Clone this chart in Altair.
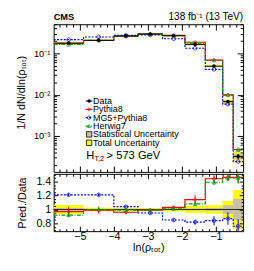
import altair as alt
import pandas as pd

# ---------------- data ----------------
edges = [-5.77, -4.89, -4.00, -3.29, -2.57, -1.91, -1.31, -0.80, -0.49, -0.20]
data_vals = [0.178, 0.208, 0.265, 0.295, 0.267, 0.165, 0.049, 0.0068, 3.2e-4]
pythia_vals = [0.172, 0.205, 0.257, 0.292, 0.274, 0.186, 0.069, 0.0099, 4.7e-4]
mg5_vals = [0.215, 0.250, 0.274, 0.280, 0.226, 0.133, 0.041, 0.0059, 2.4e-4]
herwig_vals = [0.164, 0.208, 0.262, 0.292, 0.270, 0.178, 0.068, 0.0098, 4.6e-4]
stat_rel = [0.02, 0.01, 0.01, 0.01, 0.01, 0.015, 0.02, 0.06, 0.15]
tot_rel = [0.065, 0.025, 0.025, 0.02, 0.03, 0.05, 0.06, 0.12, 0.28]

pythia_ratio = [0.97, 0.99, 0.96, 0.99, 1.03, 1.14, 1.44, 1.46, 1.46]
mg5_ratio = [1.21, 1.21, 1.04, 0.95, 0.85, 0.82, 0.84, 0.87, 0.76]
herwig_ratio = [0.92, 1.00, 0.99, 0.99, 1.01, 1.08, 1.39, 1.45, 1.45]
pythia_rerr = [0.07, 0.05, 0.03, 0.02, 0.02, 0.06, 0.05, 0.05, 0.08]
mg5_rerr = [0.02, 0.02, 0.02, 0.02, 0.02, 0.035, 0.065, 0.09, 0.10]
herwig_rerr = [0.03, 0.02, 0.02, 0.02, 0.02, 0.03, 0.04, 0.05, 0.08]

series_names = ["Pythia8", "MG5+Pythia8", "Herwig7"]
legend_labels = ["Data", "Pythia8", "MG5+Pythia8", "Herwig7",
                 "Statistical Uncertainty", "Total Uncertainty"]
cut_main, cut_sub, cut_rest = "H", "T,2", "> 573 GeV"
header_left = "CMS"
header_right = "138 fb⁻¹ (13 TeV)"
y_title_top = "1/N dN/dln(ρₜₒₜ)"
y_title_bot = "Pred./Data"
x_title = "ln(ρₜₒₜ)"
x_ticks = [-5, -4, -3, -2, -1]
y_ticks_top = [1e-3, 1e-2, 1e-1]
y_ticks_bot = [0.8, 1.0, 1.2, 1.4]

# ---------------- layout / style ----------------
W, H_TOP, H_BOT = 195, 152, 59
FONT = "Liberation Sans"
YEL, TAN = "#ffff00", "#c8bfa4"
style = {
    "Pythia8": dict(color="#ff0000", shape="diamond"),
    "MG5+Pythia8": dict(color="#0000ff", shape="circle", strokeDash=[2, 1.5]),
    "Herwig7": dict(color="#009a00", shape="triangle-up", strokeDash=[4, 1.5, 1, 1.5]),
}
top_vals = dict(zip(series_names, [pythia_vals, mg5_vals, herwig_vals]))
bot_vals = dict(zip(series_names, [pythia_ratio, mg5_ratio, herwig_ratio]))
bot_errs = dict(zip(series_names, [pythia_rerr, mg5_rerr, herwig_rerr]))

xdom = [edges[0], edges[-1]]
ydom_top = [1.35e-4, 0.508]
ydom_bot = [0.69, 1.51]
xs = alt.Scale(domain=xdom, nice=False, zero=False)
ys_top = alt.Scale(type="log", domain=ydom_top, nice=False)
ys_bot = alt.Scale(domain=ydom_bot, nice=False, zero=False)

lo, hi = edges[:-1], edges[1:]
ctr = [(a + b) / 2 for a, b in zip(lo, hi)]

x_minor = [round(-5.6 + 0.2 * i, 1) for i in range(27)]
x_minor = [v for v in x_minor if abs(v - round(v)) > 1e-6]
y_minor_top = [k * 10.0 ** e for e in range(-4, 0) for k in range(2, 10)
               if ydom_top[0] < k * 10.0 ** e < ydom_top[1]]
y_minor_bot = [round(0.7 + 0.05 * i, 2) for i in range(17)]
y_minor_bot = [v for v in y_minor_bot if all(abs(v - m) > 1e-6 for m in y_ticks_bot)]


def step_df(vals):
    return pd.DataFrame({"x": edges, "y": list(vals) + [vals[-1]]})


def X(f, **kw):
    return alt.X(f, type="quantitative", scale=xs, axis=None, **kw)


def Y(f, ys, **kw):
    return alt.Y(f, type="quantitative", scale=ys, axis=None, **kw)


def tick_axis(orient, values, size, offset):
    return alt.Axis(orient=orient, values=values, tickSize=size, offset=offset,
                    labels=False, domain=False, grid=False, title=None,
                    tickColor="black", tickWidth=1, zindex=1)


def axis_layer(df, ys, xaxis, yaxis):
    return alt.Chart(df).mark_point(opacity=0).encode(
        x=alt.X("x:Q", scale=xs, axis=xaxis),
        y=alt.Y("y:Q", scale=ys, axis=yaxis))


# ---------------- top panel ----------------
band_top = pd.DataFrame({
    "lo": lo, "hi": hi, "x": ctr, "y": data_vals,
    "tlo": [d * (1 - t) for d, t in zip(data_vals, tot_rel)],
    "thi": [d * (1 + t) for d, t in zip(data_vals, tot_rel)],
    "slo": [d * (1 - s) for d, s in zip(data_vals, stat_rel)],
    "shi": [d * (1 + s) for d, s in zip(data_vals, stat_rel)],
})

top_layers = [
    alt.Chart(band_top).mark_rect(color=YEL).encode(
        x=X("lo"), x2="hi", y=Y("tlo", ys_top), y2="thi"),
    alt.Chart(band_top).mark_rect(color=TAN).encode(
        x=X("lo"), x2="hi", y=Y("slo", ys_top), y2="shi"),
]
for name in series_names:
    st = style[name]
    lkw = dict(color=st["color"], strokeWidth=1.2, interpolate="step-after", clip=True)
    if "strokeDash" in st:
        lkw["strokeDash"] = st["strokeDash"]
    top_layers.append(alt.Chart(step_df(top_vals[name])).mark_line(**lkw).encode(
        x=X("x"), y=Y("y", ys_top)))
for name in series_names:
    st = style[name]
    top_layers.append(alt.Chart(pd.DataFrame({"x": ctr, "y": top_vals[name]})).mark_point(
        shape=st["shape"], filled=False, color=st["color"], size=14, strokeWidth=1).encode(
        x=X("x"), y=Y("y", ys_top)))
top_layers += [
    alt.Chart(band_top).mark_rule(color="black", strokeWidth=1).encode(
        x=X("lo"), x2="hi", y=Y("y", ys_top)),
    alt.Chart(band_top).mark_rule(color="black", strokeWidth=1).encode(
        x=X("x"), y=Y("slo", ys_top), y2="shi"),
    alt.Chart(band_top).mark_point(shape="circle", filled=True, color="black",
                                   size=14, opacity=1).encode(
        x=X("x"), y=Y("y", ys_top)),
]

# legend (drawn inside the top panel)
LEG_Y0, LEG_DY = 79, 8.6
SYM_X, TXT_X = 36.5, 40.5
LEG_FS = 9.2
one = pd.DataFrame({"a": [0]})
for i, lab in enumerate(legend_labels):
    yy = LEG_Y0 + i * LEG_DY
    top_layers.append(alt.Chart(pd.DataFrame({"t": [lab]})).mark_text(
        align="left", baseline="middle", fontSize=LEG_FS, font=FONT, color="black").encode(
        text="t:N", x=alt.value(TXT_X), y=alt.value(yy)))
    if i == 0:
        top_layers.append(alt.Chart(one).mark_rule(color="black", strokeWidth=1).encode(
            x=alt.value(SYM_X - 3.5), x2=alt.value(SYM_X + 3.5), y=alt.value(yy)))
        top_layers.append(alt.Chart(one).mark_point(
            shape="circle", filled=True, color="black", size=12, opacity=1).encode(
            x=alt.value(SYM_X), y=alt.value(yy)))
    elif i <= 3:
        st = style[lab]
        rkw = dict(color=st["color"], strokeWidth=1.2)
        if "strokeDash" in st:
            rkw["strokeDash"] = st["strokeDash"]
        top_layers.append(alt.Chart(one).mark_rule(**rkw).encode(
            x=alt.value(SYM_X - 3.5), x2=alt.value(SYM_X + 3.5), y=alt.value(yy)))
        top_layers.append(alt.Chart(one).mark_point(
            shape=st["shape"], filled=False, color=st["color"], size=12, strokeWidth=1).encode(
            x=alt.value(SYM_X), y=alt.value(yy)))
    else:
        fillc = TAN if i == 4 else YEL
        top_layers.append(alt.Chart(one).mark_rect(
            fill=fillc, stroke="black", strokeWidth=0.8).encode(
            x=alt.value(SYM_X - 2.8), x2=alt.value(SYM_X + 2.8),
            y=alt.value(yy - 2.8), y2=alt.value(yy + 2.8)))

CUT_Y = 136
HEAD_Y = -4.5
top_layers += [
    alt.Chart(pd.DataFrame({"t": [cut_main]})).mark_text(
        align="left", baseline="middle", fontSize=11.5, font=FONT, color="black").encode(
        text="t:N", x=alt.value(SYM_X - 3), y=alt.value(CUT_Y)),
    alt.Chart(pd.DataFrame({"t": [cut_sub]})).mark_text(
        align="left", baseline="middle", fontSize=7.5, font=FONT, color="black").encode(
        text="t:N", x=alt.value(SYM_X + 5.5), y=alt.value(CUT_Y + 3)),
    alt.Chart(pd.DataFrame({"t": [cut_rest]})).mark_text(
        align="left", baseline="middle", fontSize=11.5, font=FONT, color="black").encode(
        text="t:N", x=alt.value(SYM_X + 18), y=alt.value(CUT_Y)),
    alt.Chart(pd.DataFrame({"t": [header_left]})).mark_text(
        align="left", baseline="alphabetic", fontSize=9.5, font=FONT,
        fontWeight="bold", color="black").encode(
        text="t:N", x=alt.value(0), y=alt.value(HEAD_Y)),
    alt.Chart(pd.DataFrame({"t": [header_right]})).mark_text(
        align="right", baseline="alphabetic", fontSize=10.3, font=FONT, color="black").encode(
        text="t:N", x=alt.value(W), y=alt.value(HEAD_Y)),
]

pts_top = pd.DataFrame({"x": ctr, "y": data_vals})
top_label_expr = ("datum.value < 0.0015 ? '10⁻³' : "
                  "(datum.value < 0.015 ? '10⁻²' : '10⁻¹')")
top_layers += [
    axis_layer(pts_top, ys_top,
               tick_axis("top", x_ticks, 6, -H_TOP),
               alt.Axis(orient="left", values=y_ticks_top, ticks=False, domain=False,
                        grid=False, labelExpr=top_label_expr, labelFontSize=9.5,
                        labelPadding=4, labelFont=FONT, title=y_title_top,
                        titleFontSize=11, titleFont=FONT, titleFontWeight="normal",
                        titleX=-33, titleY=H_TOP / 2 - 6, titleBaseline="middle",
                        titleAlign="center", titleAngle=270)),
    axis_layer(pts_top, ys_top, tick_axis("bottom", x_ticks, 6, -H_TOP),
               tick_axis("right", y_ticks_top, 6, -W)),
    axis_layer(pts_top, ys_top, tick_axis("bottom", x_minor, 3, -H_TOP),
               tick_axis("right", y_minor_top, 3, -W)),
    axis_layer(pts_top, ys_top, tick_axis("top", x_minor, 3, -H_TOP),
               tick_axis("left", y_ticks_top, 6, -W)),
    axis_layer(pts_top, ys_top, None, tick_axis("left", y_minor_top, 3, -W)),
]
top = alt.layer(*top_layers).resolve_axis(x="independent", y="independent").properties(
    width=W, height=H_TOP)

# ---------------- ratio panel ----------------
band_bot = pd.DataFrame({
    "lo": lo, "hi": hi,
    "tlo": [1 - t for t in tot_rel], "thi": [1 + t for t in tot_rel],
    "slo": [1 - s for s in stat_rel], "shi": [1 + s for s in stat_rel],
})
bot_layers = [
    alt.Chart(band_bot).mark_rect(color=YEL, clip=True).encode(
        x=X("lo"), x2="hi", y=Y("tlo", ys_bot), y2="thi"),
    alt.Chart(band_bot).mark_rect(color=TAN, clip=True).encode(
        x=X("lo"), x2="hi", y=Y("slo", ys_bot), y2="shi"),
    alt.Chart(pd.DataFrame({"y": [1.0]})).mark_rule(color="#222222", strokeWidth=1).encode(
        y=Y("y", ys_bot)),
]
for name in series_names:
    st = style[name]
    lkw = dict(color=st["color"], strokeWidth=1.2, interpolate="step-after", clip=True)
    if "strokeDash" in st:
        lkw["strokeDash"] = st["strokeDash"]
    bot_layers.append(alt.Chart(step_df(bot_vals[name])).mark_line(**lkw).encode(
        x=X("x"), y=Y("y", ys_bot)))
for name in series_names:
    st = style[name]
    df = pd.DataFrame({"x": ctr, "y": bot_vals[name],
                       "lo": [r - e for r, e in zip(bot_vals[name], bot_errs[name])],
                       "hi": [r + e for r, e in zip(bot_vals[name], bot_errs[name])]})
    bot_layers.append(alt.Chart(df).mark_rule(color=st["color"], strokeWidth=1, clip=True).encode(
        x=X("x"), y=Y("lo", ys_bot), y2="hi"))
    bot_layers.append(alt.Chart(df).mark_point(
        shape=st["shape"], filled=False, color=st["color"], size=14, strokeWidth=1,
        clip=True).encode(x=X("x"), y=Y("y", ys_bot)))

pts_bot = pd.DataFrame({"x": ctr, "y": pythia_ratio})
bot_layers += [
    axis_layer(pts_bot, ys_bot,
               alt.Axis(orient="bottom", values=x_ticks, ticks=False, domain=False,
                        grid=False, format="d", labelFontSize=11, labelPadding=0,
                        labelFont=FONT, title=x_title, titleFontSize=11, titleFont=FONT,
                        titleFontWeight="normal", titleY=20, titleBaseline="alphabetic"),
               alt.Axis(orient="left", values=y_ticks_bot, ticks=False, domain=False,
                        grid=False, format="~g", labelFontSize=11, labelPadding=3,
                        labelFont=FONT, title=y_title_bot, titleFontSize=11,
                        titleFont=FONT, titleFontWeight="normal", titleX=-32,
                        titleY=H_BOT / 2, titleBaseline="middle", titleAlign="center",
                        titleAngle=270)),
    axis_layer(pts_bot, ys_bot, tick_axis("bottom", x_ticks, 5, -H_BOT),
               tick_axis("right", y_ticks_bot, 4, -W)),
    axis_layer(pts_bot, ys_bot, tick_axis("bottom", x_minor, 2.5, -H_BOT),
               tick_axis("right", y_minor_bot, 2, -W)),
    axis_layer(pts_bot, ys_bot, tick_axis("top", x_ticks, 5, -H_BOT),
               tick_axis("left", y_ticks_bot, 4, -W)),
    axis_layer(pts_bot, ys_bot, tick_axis("top", x_minor, 2.5, -H_BOT),
               tick_axis("left", y_minor_bot, 2, -W)),
]
bot = alt.layer(*bot_layers).resolve_axis(x="independent", y="independent").properties(
    width=W, height=H_BOT)

chart = alt.vconcat(top, bot, spacing=0).properties(
    padding={"left": 7, "top": 0, "right": 2, "bottom": 4},
    background="white",
).configure_view(stroke="black", strokeWidth=1)

chart.save("out.html", embed_options={"renderer": "svg", "actions": False})
